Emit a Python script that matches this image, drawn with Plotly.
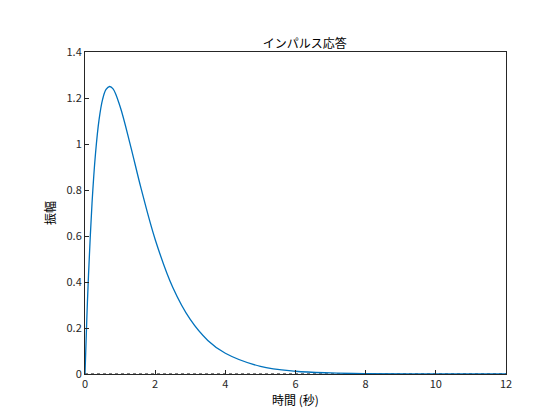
import plotly.graph_objects as go

t = [0, 0.05, 0.1, 0.2, 0.3, 0.4, 0.5, 0.6, 0.7, 0.8, 1.0, 1.3, 1.6, 2.0, 2.5, 3.0, 3.5, 4.0, 5.0, 6.0, 7.0, 8.0, 10.0, 12.0]
amp = [0, 0.232, 0.430, 0.742, 0.960, 1.105, 1.193, 1.237, 1.250, 1.240, 1.163, 0.991, 0.806, 0.585, 0.377, 0.237, 0.146, 0.090, 0.033, 0.012, 0.0045, 0.0017, 0.0002, 0.0]
xticks = [0, 2, 4, 6, 8, 10, 12]
yticks = [0, 0.2, 0.4, 0.6, 0.8, 1, 1.2, 1.4]

font = "Noto Sans CJK JP"
fig = go.Figure()
fig.add_trace(go.Scatter(x=[0, 12], y=[0, 0], mode="lines",
                         line=dict(color="black", width=1, dash="dot"), hoverinfo="skip"))
fig.add_trace(go.Scatter(x=t, y=amp, mode="lines", line=dict(color="#0072BD", width=1.3, shape="spline")))

ax = dict(showgrid=False, zeroline=False, showline=True, linecolor="#262626", linewidth=1,
          mirror=True, ticks="inside", ticklen=4, tickcolor="#262626",
          tickfont=dict(color="#262626", size=11, family=font))
fig.update_layout(
    width=560, height=420, showlegend=False,
    paper_bgcolor="white", plot_bgcolor="white",
    margin=dict(l=77, r=62, t=44, b=54),
    title=dict(text="インパルス応答", x=0.53, xanchor="center", y=0.925,
               font=dict(family=font, size=12, color="black")),
    font=dict(family=font),
)
fig.update_xaxes(range=[0, 12], tickvals=xticks, title=dict(text="時間 (秒)", standoff=2,
                 font=dict(size=12, color="black")), **ax)
fig.update_yaxes(range=[0, 1.4], tickvals=yticks, title=dict(text="振幅", standoff=8,
                 font=dict(size=12, color="black")), **ax)
fig.write_html("out.html")
